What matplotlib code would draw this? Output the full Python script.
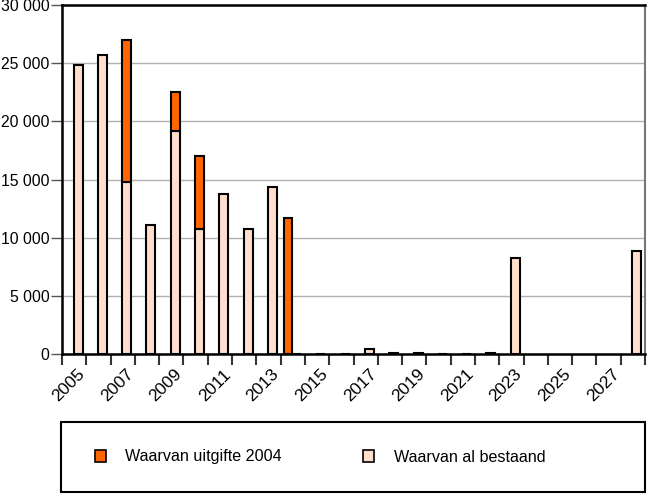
import matplotlib.pyplot as plt
from matplotlib.patches import Rectangle, Patch
from matplotlib.ticker import FuncFormatter
import numpy as np

plt.rcParams['font.family'] = ['Liberation Sans', 'DejaVu Sans']

jaren = list(range(2005, 2029))
# Waarvan al bestaand (onderste deel)
bestaand = [24800, 25700, 14800, 11100, 19200, 10750, 13750, 10750, 14350, 30,
            30, 30, 400, 100, 100, 30, 30, 100, 8250, 0, 0, 0, 0, 8850]
# Waarvan uitgifte 2004, gestapeld op bestaand
uitgifte = [0, 0, 12200, 0, 3300, 6250, 0, 0, 0, 0,
            0, 0, 0, 0, 0, 0, 0, 0, 0, 0, 0, 0, 0, 0]
# Waarvan uitgifte 2004, los naast bestaand
uitgifte_los = [0, 0, 0, 0, 0, 0, 0, 0, 0, 11700,
                0, 0, 0, 0, 0, 0, 0, 0, 0, 0, 0, 0, 0, 0]

kleur_oranje = '#FF6600'
kleur_licht = '#FFDFCC'

fig = plt.figure(figsize=(6.47, 4.96), dpi=100)
ax = fig.add_axes([62/647, 1-354/496, 583/647, 349/496])

x = np.arange(len(jaren))
best = [v if v > 0 else np.nan for v in bestaand]
uit = [v if v > 0 else np.nan for v in uitgifte]
los = [v if v > 0 else np.nan for v in uitgifte_los]
ax.bar(x+0.66, best, width=0.37, color=kleur_licht, edgecolor='black', linewidth=1.5, zorder=3)
ax.bar(x+0.66, uit, width=0.37, bottom=bestaand, color=kleur_oranje, edgecolor='black', linewidth=1.5, zorder=3)
ax.bar(x+0.31, los, width=0.34, color=kleur_oranje, edgecolor='black', linewidth=1.5, zorder=3)

ax.set_xlim(0, len(jaren))
ax.set_ylim(0, 30000)
ax.set_yticks(range(0, 30001, 5000))
ax.yaxis.set_major_formatter(FuncFormatter(lambda v, p: f"{int(v):,}".replace(',', ' ')))
ax.yaxis.grid(True, color='#b0b0b0', linewidth=1)
ax.set_axisbelow(True)

ax.set_xticks(x[::2]+0.62)
ax.set_xticklabels([str(j) for j in jaren[::2]], rotation=45, ha='right', rotation_mode='anchor')
ax.set_xticks(np.arange(0, len(jaren)+1), minor=True)
ax.tick_params(axis='x', which='major', length=0, pad=9, labelsize=12.5)
ax.tick_params(axis='x', which='minor', length=8, width=1.5, color='#333333')
ax.tick_params(axis='y', length=8, width=1, color='#555555', labelsize=11.3, pad=1)

for s in ['left', 'bottom', 'top']:
    ax.spines[s].set_linewidth(1.8)
ax.spines['right'].set_color('#777777')
ax.spines['right'].set_linewidth(1.5)

# legendakader
fig.patches.append(Rectangle((61/647, 4/496), 584/647, 70/496, transform=fig.transFigure,
                             fill=False, edgecolor='black', linewidth=1.5))
handles = [Patch(facecolor=kleur_oranje, edgecolor='black', linewidth=1.2, label='Waarvan uitgifte 2004'),
           Patch(facecolor=kleur_licht, edgecolor='black', linewidth=1.2, label='Waarvan al bestaand')]
fig.legend(handles=handles, loc='center left', bbox_to_anchor=(80/647, 39/496), ncol=2, frameon=False,
           fontsize=11.6, handlelength=0.72, handleheight=0.72, handletextpad=1.2, columnspacing=5.0)

fig.savefig('out.png', dpi=100)
